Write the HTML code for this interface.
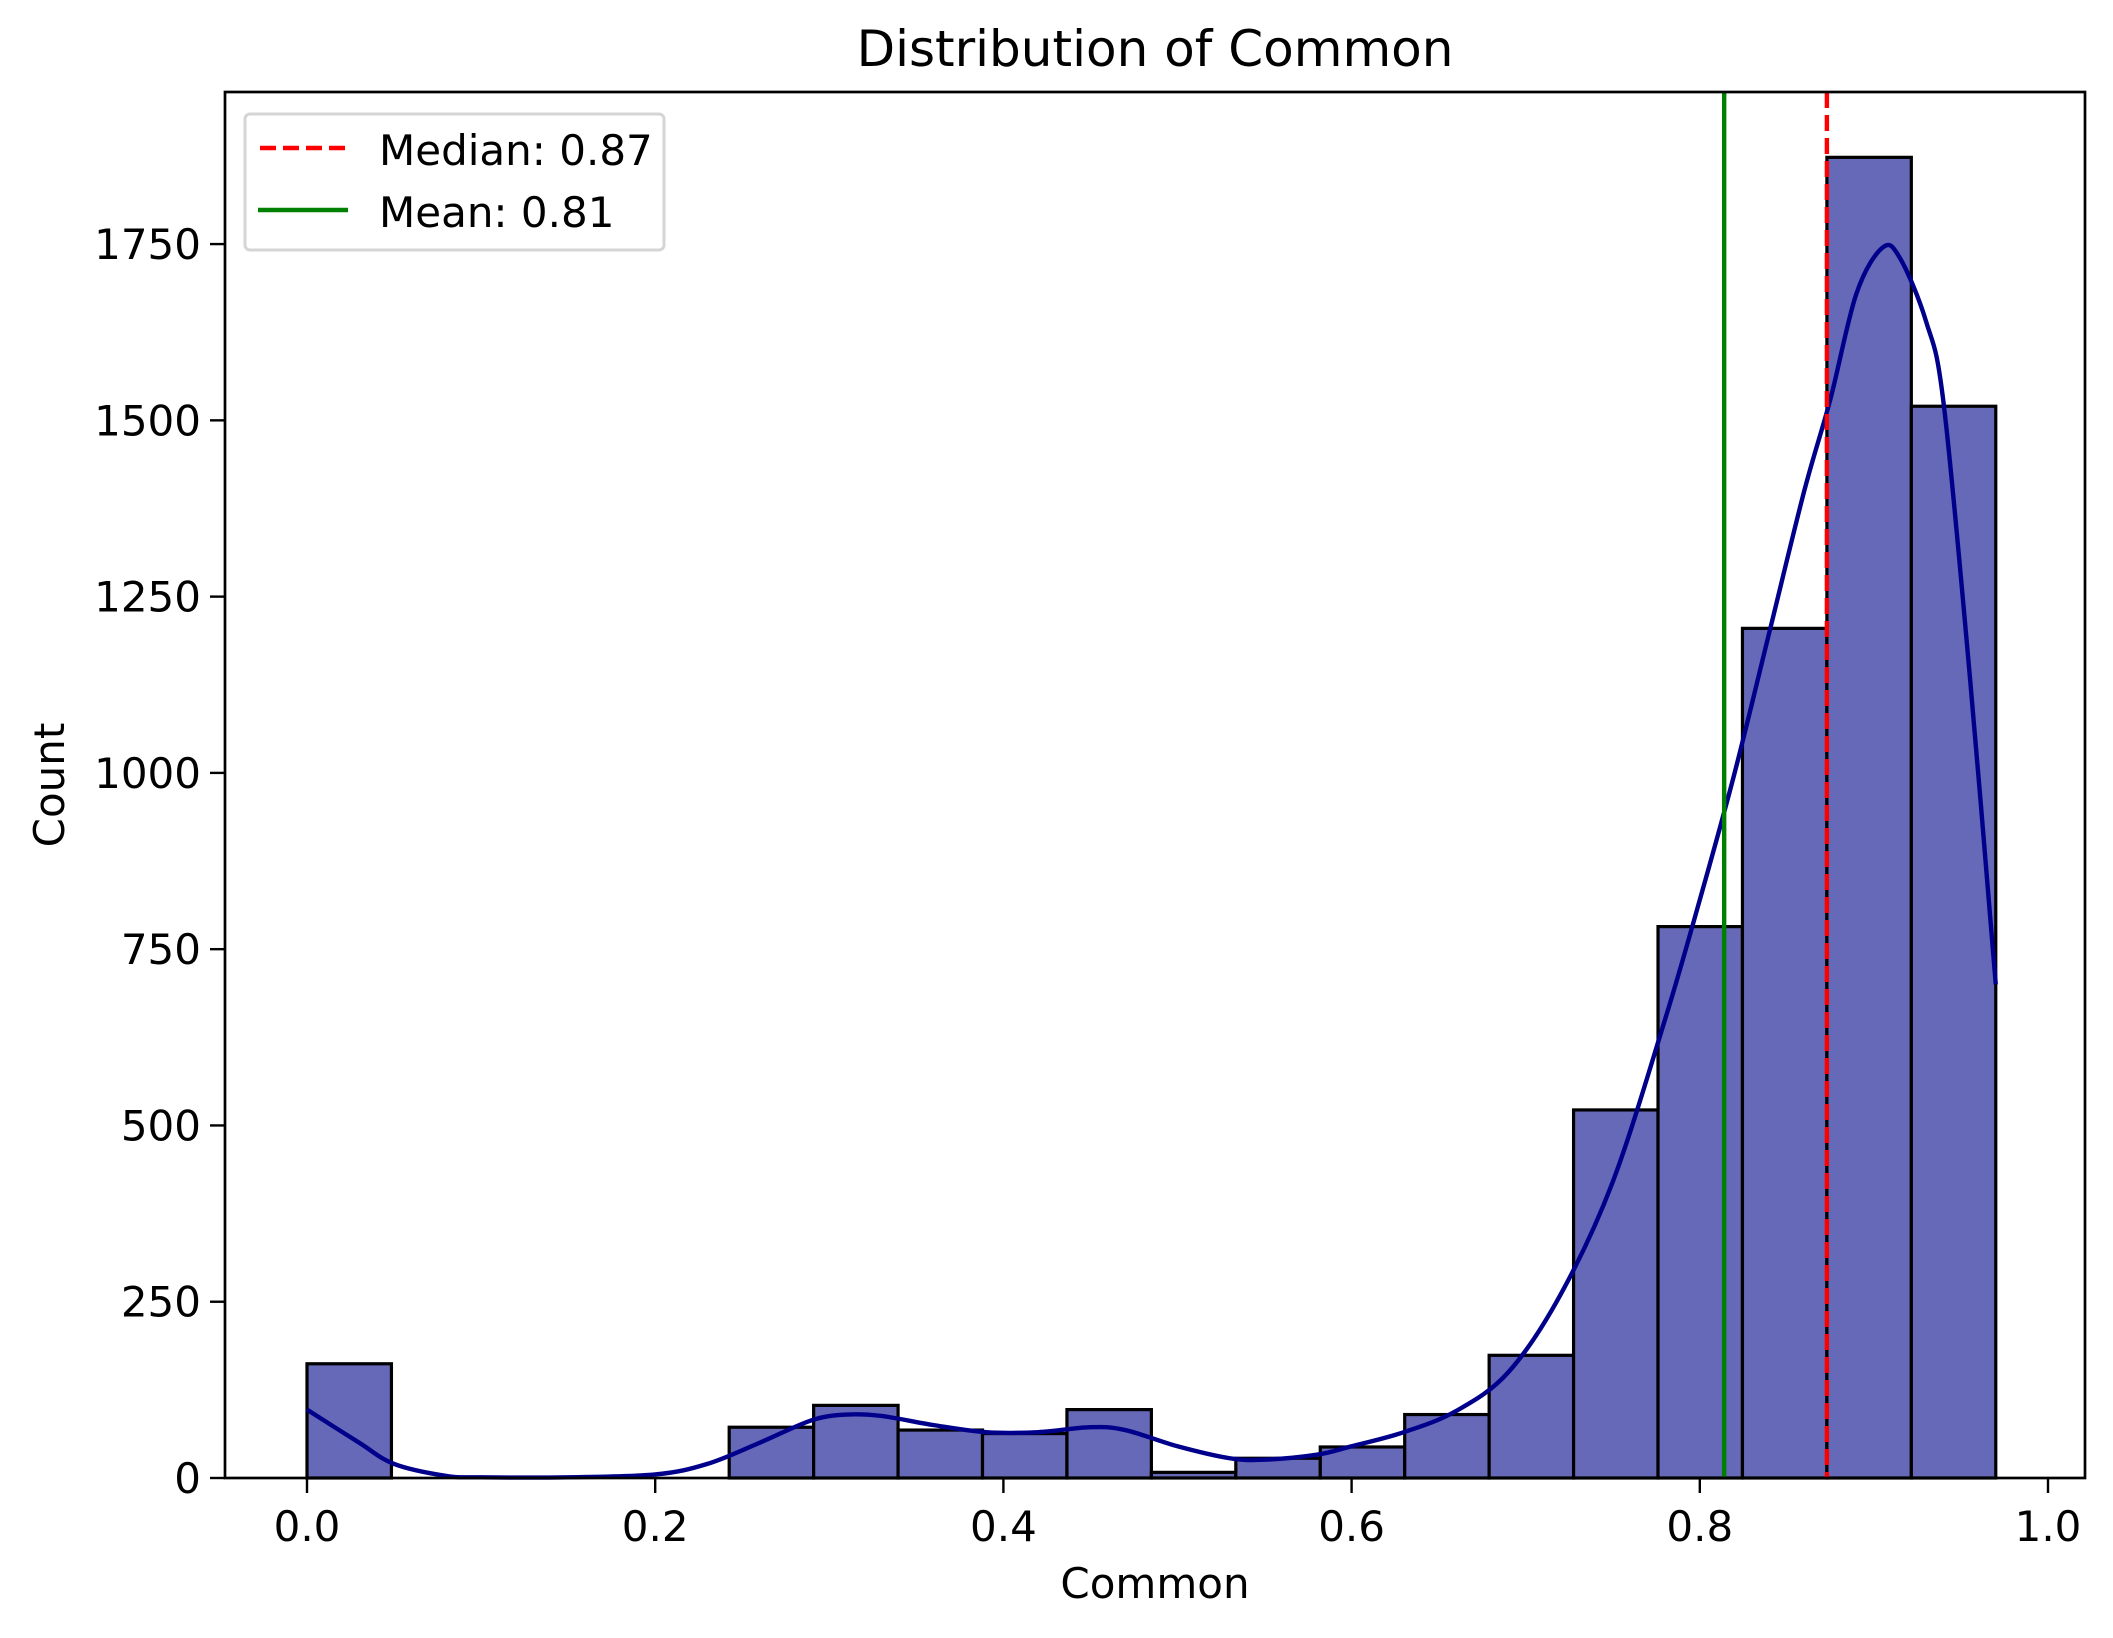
<!DOCTYPE html>
<html><head><meta charset="utf-8"><style>body{margin:0;background:#fff}svg{display:block;font-family:"DejaVu Sans","Liberation Sans",sans-serif}</style></head>
<body>
<svg id="chart" width="2113" height="1638" viewBox="0 0 2113 1638">
<rect width="2113" height="1638" fill="#fff"/>
<g id="bars"></g><g id="kde"></g><g id="refs"></g><g id="axes"></g>
</svg>
<script>
const binEdgesStart = 0, binWidth = 0.0485;
const counts = [162,0,0,0,0,72,103,68,63,97,8,28,44,90,174,522,782,1205,1873,1520];
const kdeX = [0,0.03,0.05,0.08,0.1,0.15,0.2,0.23,0.26,0.29,0.31,0.33,0.36,0.39,0.42,0.45,0.47,0.5,0.53,0.55,0.58,0.6,0.63,0.66,0.69,0.72,0.75,0.78,0.8,0.82,0.84,0.86,0.875,0.89,0.905,0.915,0.93,0.94,0.955,0.97];
const kdeY = [97,50,20,3,1,1,5,20,50,82,90,88,75,65,65,72,68,45,28,26,33,45,65,95,150,260,420,650,820,1000,1200,1400,1530,1680,1745,1730,1640,1525,1140,700];
const xTicks = [0,0.2,0.4,0.6,0.8,1.0];
const xTickLabels = ["0.0","0.2","0.4","0.6","0.8","1.0"];
const yTicks = [0,250,500,750,1000,1250,1500,1750];
const medianVal = 0.873, meanVal = 0.814;
const L=225,R=2085,T=92,B=1478;
const sx=v=>307+v*1741, sy=v=>B-v*0.7051;
const NS="http://www.w3.org/2000/svg";
function mk(tag,attrs,parent,text){const e=document.createElementNS(NS,tag);for(const k in attrs)e.setAttribute(k,attrs[k]);if(text!==undefined)e.textContent=text;parent.appendChild(e);return e;}
const bars=document.getElementById('bars');
counts.forEach((c,i)=>{const x0=sx(binEdgesStart+i*binWidth),x1=sx(binEdgesStart+(i+1)*binWidth);
 if(c<=0)return;
 const r=mk('rect',{x:x0,y:sy(c),width:x1-x0,height:sy(0)-sy(c),fill:'#6668b8',stroke:'#000','stroke-width':3.2},bars);
 
 });
const pts=kdeX.map((x,i)=>[sx(x),sy(kdeY[i])]);
let d=`M${pts[0][0]},${pts[0][1]}`;
for(let i=0;i<pts.length-1;i++){const p0=pts[Math.max(0,i-1)],p1=pts[i],p2=pts[i+1],p3=pts[Math.min(pts.length-1,i+2)];
 d+=` C${p1[0]+(p2[0]-p0[0])/6},${p1[1]+(p2[1]-p0[1])/6} ${p2[0]-(p3[0]-p1[0])/6},${p2[1]-(p3[1]-p1[1])/6} ${p2[0]},${p2[1]}`;}
const k=mk('path',{d:d,fill:'none',stroke:'#00008b','stroke-width':4.4},document.getElementById('kde'));


const refs=document.getElementById('refs');
const med=mk('line',{x1:sx(medianVal),x2:sx(medianVal),y1:T,y2:B,stroke:'#ff0000','stroke-width':4.4,'stroke-dasharray':'16,7'},refs);


const mn=mk('line',{x1:sx(meanVal),x2:sx(meanVal),y1:T,y2:B,stroke:'#008000','stroke-width':4.4},refs);


const ax=document.getElementById('axes');
const fr=mk('rect',{x:L,y:T,width:R-L,height:B-T,fill:'none',stroke:'#000','stroke-width':2.7},ax);


xTicks.forEach((v,i)=>{mk('line',{x1:sx(v),x2:sx(v),y1:B,y2:B+15,stroke:'#000','stroke-width':2.4},ax);
 const t=mk('text',{x:sx(v),y:1541,'font-size':42,'text-anchor':'middle'},ax,xTickLabels[i]);
 
 });
yTicks.forEach(v=>{mk('line',{x1:L,x2:L-15,y1:sy(v),y2:sy(v),stroke:'#000','stroke-width':2.4},ax);
 const t=mk('text',{x:L-24,y:sy(v)+15,'font-size':42,'text-anchor':'end'},ax,String(v));
 
 });
const tt=mk('text',{x:(L+R)/2,y:66,'font-size':50,'text-anchor':'middle'},ax,'Distribution of Common');


const xl=mk('text',{x:(L+R)/2,y:1598,'font-size':42,'text-anchor':'middle'},ax,'Common');


const yl=mk('text',{x:64,y:(T+B)/2,'font-size':42,'text-anchor':'middle',transform:`rotate(-90 64 ${(T+B)/2})`},ax,'Count');


const lg=mk('g',{},ax);


mk('rect',{x:245,y:114,width:419,height:136,rx:5,fill:'#fff','fill-opacity':0.8,stroke:'#d5d5d5','stroke-width':3},lg);
mk('line',{x1:260,x2:346,y1:148,y2:148,stroke:'#ff0000','stroke-width':4.4,'stroke-dasharray':'16,7'},lg);
const l1=mk('text',{x:379,y:165,'font-size':42},lg,'Median: 0.87');


mk('line',{x1:258,x2:348,y1:210,y2:210,stroke:'#008000','stroke-width':4.4},lg);
const l2=mk('text',{x:379,y:227,'font-size':42},lg,'Mean: 0.81');


</script>
</body></html>
